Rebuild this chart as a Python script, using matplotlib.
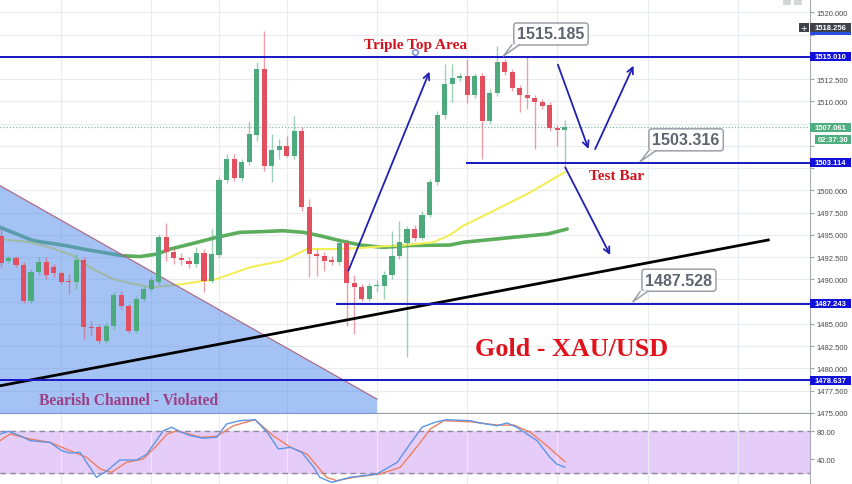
import numpy as np
import matplotlib.pyplot as plt
from matplotlib.patches import Rectangle, Polygon
from matplotlib.transforms import blended_transform_factory

plt.rcParams['font.family'] = ['Liberation Sans', 'DejaVu Sans']

# hourly candles (index 0 = left edge)
opens = [1494.87, 1492.05, 1492.39, 1491.64, 1487.59, 1490.85, 1491.98, 1491.41, 1490.67, 1489.86,
         1489.66, 1492.20, 1484.69, 1484.61, 1483.10, 1484.72, 1488.24, 1486.97, 1484.22, 1487.78,
         1488.91, 1489.66, 1494.72, 1493.10, 1492.43, 1492.05, 1491.68, 1492.92, 1489.84, 1492.73,
         1501.16, 1503.52, 1501.42, 1503.15, 1506.25, 1513.63, 1502.76, 1504.56, 1504.94, 1503.89,
         1506.70, 1498.09, 1492.84, 1492.65, 1492.17, 1491.91, 1494.08, 1489.55, 1489.10, 1487.78,
         1489.21, 1489.28, 1490.48, 1492.58, 1494.11, 1495.65, 1494.64, 1497.26, 1500.90, 1508.46,
         1511.94, 1512.58, 1512.80, 1510.71, 1512.87, 1507.82, 1510.90, 1514.38, 1513.26, 1511.46,
         1510.74, 1510.37, 1509.89, 1509.58, 1507.03, 1506.74]
highs = [1495.65, 1492.62, 1492.62, 1491.94, 1491.16, 1492.51, 1492.51, 1491.72, 1490.93, 1490.59,
         1492.84, 1492.51, 1485.31, 1484.97, 1485.20, 1488.57, 1488.68, 1487.22, 1488.12, 1489.24,
         1490.26, 1495.09, 1496.32, 1493.52, 1492.96, 1492.51, 1493.63, 1493.40, 1495.65, 1501.49,
         1504.08, 1504.08, 1503.52, 1507.79, 1514.45, 1517.93, 1506.33, 1505.76, 1506.10, 1508.38,
         1507.11, 1499.02, 1493.40, 1493.07, 1492.62, 1494.53, 1494.53, 1490.48, 1489.47, 1489.58,
         1489.92, 1490.93, 1495.42, 1496.58, 1496.02, 1496.10, 1497.67, 1501.27, 1508.91, 1514.19,
         1514.19, 1513.18, 1514.75, 1513.18, 1513.18, 1511.38, 1516.18, 1514.75, 1513.63, 1511.83,
         1514.97, 1510.71, 1510.26, 1509.92, 1507.33, 1507.93]
lows = [1491.38, 1491.83, 1491.38, 1487.34, 1487.34, 1490.48, 1490.03, 1490.26, 1489.47, 1488.35,
        1488.91, 1483.29, 1483.63, 1482.73, 1482.84, 1484.41, 1486.66, 1483.96, 1483.96, 1487.56,
        1488.68, 1489.36, 1492.05, 1491.72, 1491.61, 1491.27, 1491.38, 1488.57, 1489.58, 1492.51,
        1500.82, 1501.04, 1501.04, 1502.84, 1505.54, 1502.20, 1500.93, 1503.52, 1503.74, 1503.52,
        1497.67, 1490.22, 1490.37, 1490.93, 1491.61, 1491.61, 1484.78, 1483.85, 1487.56, 1487.56,
        1488.68, 1487.78, 1490.03, 1492.28, 1481.24, 1494.30, 1494.41, 1497.00, 1500.60, 1508.01,
        1509.92, 1512.28, 1509.81, 1510.37, 1503.51, 1507.45, 1510.59, 1512.95, 1511.16, 1508.80,
        1509.14, 1504.64, 1509.14, 1506.66, 1505.01, 1502.76]
closes = [1491.83, 1492.39, 1491.61, 1487.59, 1490.85, 1491.98, 1490.48, 1490.67, 1489.73, 1489.70,
          1492.20, 1484.61, 1484.52, 1483.10, 1484.78, 1488.24, 1486.97, 1484.22, 1487.78, 1488.91,
          1489.92, 1494.72, 1493.03, 1492.36, 1492.13, 1491.68, 1492.92, 1489.84, 1492.84, 1501.16,
          1503.52, 1501.42, 1503.15, 1506.33, 1513.63, 1502.76, 1504.53, 1504.94, 1503.89, 1506.70,
          1498.09, 1492.84, 1492.65, 1492.09, 1491.98, 1494.08, 1489.55, 1489.10, 1487.78, 1489.21,
          1489.36, 1490.48, 1492.58, 1494.15, 1495.65, 1494.64, 1497.26, 1500.90, 1508.46, 1511.94,
          1512.58, 1512.80, 1510.71, 1512.87, 1507.82, 1510.90, 1514.38, 1513.26, 1511.46, 1510.74,
          1510.37, 1509.89, 1509.51, 1506.97, 1506.74, 1507.06]

# moving averages (sampled points)
ma_slow_x = [-0.13, 4.3, 8.7, 10.9, 16.2, 18.5, 20.8, 22.5, 25.2, 28.7, 31.8, 34.5, 37.5, 40.2,
             42.4, 45.1, 47.8, 50.8, 54.4, 59.7, 61.5, 68.1, 72.7, 75.3]
ma_slow = [1495.84, 1494.34, 1493.78, 1493.40, 1492.65, 1492.56, 1492.84, 1493.40, 1493.96, 1494.72,
           1495.28, 1495.35, 1495.46, 1495.28, 1494.90, 1494.34, 1493.85, 1493.59, 1493.80, 1493.85,
           1494.16, 1494.72, 1495.09, 1495.65]
ma_fast_x = [-0.13, 3.9, 6.5, 9.6, 12.2, 14.9, 17.6, 20.2, 24.2, 28.7, 33.1, 37.5, 40.7, 44.2,
             47.8, 50.8, 53.1, 57.5, 59.7, 61.5, 66.0, 70.4, 73.4, 75.0]
ma_fast = [1494.53, 1494.16, 1493.60, 1492.65, 1491.16, 1490.03, 1489.47, 1489.10, 1489.47, 1490.03,
           1491.35, 1492.09, 1493.40, 1493.40, 1493.52, 1493.71, 1493.78, 1494.16, 1494.98, 1496.02,
           1497.90, 1499.77, 1501.27, 1502.02]

# stochastic %K / %D
k_x = [-0.13, 1, 2.5, 3.9, 6.5, 8.1, 9.2, 10.5, 12.7, 14.1, 15.8, 18.1, 19.4, 21.6, 22.7, 24, 25.2,
       26.9, 28.7, 30, 31.8, 33.8, 35.4, 36.9, 38.5, 40, 41.6, 42.4, 44, 46.4, 50, 52.7, 54.4, 56,
       57.1, 58, 59.3, 62.4, 63.7, 66, 67.3, 68.6, 71.3, 73, 73.9, 75]
k_val = [76, 80, 73.7, 66.5, 64, 52, 48.8, 49.8, 13.8, 23.3, 38.7, 38.7, 47.3, 80.9, 85.8, 78.6, 73.7,
         70, 71.4, 90.5, 95.3, 96.7, 78.6, 54.5, 57, 49.8, 28.2, 13.8, 6.6, 13.8, 18.6, 35.4, 61.7, 85.8,
         90.5, 93.8, 96.7, 95.3, 92, 88, 92, 85.8, 66.5, 42.6, 33, 28.2]
d_x = [-0.13, 1.2, 3.9, 6.5, 9.2, 11.4, 13.2, 14.7, 16.7, 18.9, 20.7, 22.1, 23.4, 26.5, 28.7, 30.9,
       33.8, 36.2, 38.5, 40.7, 43.3, 44.7, 46.9, 50.4, 53.1, 55.8, 57.1, 58.9, 62.4, 66, 68.2, 70.4,
       72.6, 75]
d_val = [66.5, 76.1, 68.9, 64.2, 52.1, 42.6, 25.8, 21, 35.4, 40.1, 59.3, 76.1, 80.9, 71.4, 72.8, 88,
         96.7, 73.7, 57, 47.3, 13.8, 8.9, 13.8, 18.6, 28.2, 64.2, 83.3, 95.3, 93.8, 89, 89, 78.6,
         59.3, 36.3]

# drawn levels: (price, start index)
levels = [(1515.010, -0.13), (1503.114, 61.96), (1487.243, 44.75), (1478.637, -0.13)]
last_price = 1507.061
grid_idx = [8, 20, 29, 38, 50, 62, 74, 86, 98]
# scale labels that sit under a price tag
hidden_ticks = [1517.5, 1515.0, 1507.5, 1505.0, 1502.5, 1487.5]

GREEN = '#4daa7c'
RED = '#e2505f'
LINE_BLUE = '#1616c4'

fig = plt.figure(figsize=(8.52, 4.85), dpi=100)
ax = fig.add_axes([0, 70 / 485, 810 / 852, 415 / 485])
ax2 = fig.add_axes([0, 0, 810 / 852, 70 / 485], sharex=ax)

x = np.arange(len(opens))
o = np.array(opens); h = np.array(highs); l = np.array(lows); c = np.array(closes)
up = c >= o
cols = np.where(up, GREEN, RED)
ax.vlines(x, l, h, colors=cols, lw=1, alpha=0.55, zorder=4)
ax.bar(x, np.maximum(np.abs(c - o), 0.14), width=0.68, bottom=np.minimum(o, c),
       color=cols, zorder=5)

ax.plot(ma_slow_x, ma_slow, color='#5cae5c', lw=2.6, zorder=2, solid_capstyle='round')
ax.plot(ma_fast_x, ma_fast, color='#f2ee55', lw=1.5, zorder=2)

# bearish channel (shaded)
tri = Polygon([(-0.13, 1500.52), (50.0, 1476.55), (50.0, 1474.87), (-0.13, 1474.87)],
              closed=True, fc='#5a90eb', ec='none', alpha=0.55, zorder=3)
ax.add_patch(tri)
ax.plot([-0.13, 50.0], [1500.52, 1476.55], color='#b0607a', lw=0.8, zorder=3)

# trendline
ax.plot([-0.13, 102.05], [1478.04, 1494.42], color='black', lw=2, zorder=6)

for lv, x0 in levels:
    ax.plot([x0, 108], [lv, lv], color=LINE_BLUE, lw=1.4, zorder=6)
ax.axhline(last_price, color='#86b8a2', lw=0.9, ls=(0, (1, 1.5)), zorder=1)

# arrows
arrows = [((46.21, 1490.97), (56.99, 1513.33)),
          ((74.07, 1514.11), (78.14, 1504.64)),
          ((79.03, 1504.64), (84.13, 1514.00)),
          ((75.04, 1502.58), (81.03, 1492.73))]
for (x0, y0), (x1, y1) in arrows:
    ax.annotate('', xy=(x1, y1), xytext=(x0, y0),
                arrowprops=dict(arrowstyle='->', color='#2020b4', lw=1.3,
                                mutation_scale=11, shrinkA=0, shrinkB=0), zorder=7)

ax.plot(55.1, 1515.57, 'o', ms=4, mfc='white', mec='#7088c8', mew=1, zorder=8)

serif = ['Liberation Serif', 'DejaVu Serif']
ax.text(55.17, 1516.0, 'Triple Top Area', ha='center', va='baseline', fontsize=11,
        fontweight='bold', color='#d2141e', family=serif, zorder=8)
ax.text(81.87, 1501.27, 'Test Bar', ha='center', va='baseline', fontsize=11,
        fontweight='bold', color='#d2141e', family=serif, zorder=8)
ax.text(75.93, 1481.45, 'Gold - XAU/USD', ha='center', va='baseline', fontsize=18.8,
        fontweight='bold', color='#e0121b', family=serif, zorder=8)
ax.text(17.0, 1476.0, 'Bearish Channel - Violated', ha='center', va='baseline', fontsize=11.2,
        fontweight='bold', color='#9c3f86', family=serif, zorder=8)

# price callouts: text, box centre, anchor, tail base
callouts = [('1515.185', (73.15, 1517.56), (66.83, 1515.09), (67.95, 68.92, 1516.33)),
            ('1503.316', (91.12, 1505.67), (85.02, 1503.22), (86.12, 87.02, 1504.41)),
            ('1487.528', (90.17, 1489.90), (84.05, 1487.48), (85.02, 85.99, 1488.63))]
for txt, (bx, by), (px, py), (t0, t1, ty) in callouts:
    ax.text(bx, by, txt, ha='center', va='center', fontsize=11.5, fontweight='bold',
            color='#5d6670', zorder=9,
            bbox=dict(boxstyle='round,pad=0.22,rounding_size=0.2', fc='white',
                      ec='#9ba1a8', lw=1.1))
    ax.add_patch(Polygon([(t0, ty + 0.08), (px, py), (t1, ty + 0.08)], closed=True,
                         fc='white', ec='none', zorder=9.5))
    ax.plot([t0, px, t1], [ty, py, ty], color='#9ba1a8', lw=1.1, zorder=9.6)

ax.set_xlim(-0.13, 107.6)
ax.set_ylim(1474.87, 1521.49)
ax.set_xticks(grid_idx)
ax.tick_params(axis='x', length=0, labelbottom=False)
ax.yaxis.tick_right()
yt = np.arange(1475, 1521, 2.5)
ax.set_yticks(yt)
ax.set_yticklabels(['' if v in hidden_ticks else f'{v:.3f}' for v in yt])
ax.tick_params(axis='y', length=3, color='#a0a3aa', labelsize=5.5, labelcolor='#4a4a4a', pad=2)
ax.grid(color='#e8ebef', lw=0.8, zorder=0)
ax.set_axisbelow(True)
for s in ['top', 'left']:
    ax.spines[s].set_visible(False)
ax.spines['right'].set_color('#a8abb2')
ax.spines['bottom'].set_color('#9a9da5')
ax.spines['bottom'].set_linewidth(1.6)

# stochastic panel
ax2.axhspan(20, 80, color='#e6cdf9', zorder=0)
ax2.axhline(80, color='#8c8a9c', lw=1, ls=(0, (4, 3)), zorder=1)
ax2.axhline(20, color='#8c8a9c', lw=1, ls=(0, (4, 3)), zorder=1)
ax2.plot(k_x, k_val, color='#5b95e6', lw=1, zorder=3)
ax2.plot(d_x, d_val, color='#ee7f5f', lw=1, zorder=2)
ax2.set_ylim(4.2, 104.9)
ax2.yaxis.tick_right()
ax2.set_yticks([40, 80])
ax2.set_yticklabels(['40.00', '80.00'])
ax2.tick_params(axis='y', length=3, color='#a0a3aa', labelsize=5.5, labelcolor='#4a4a4a', pad=2)
ax2.tick_params(axis='x', length=0, labelbottom=False)
ax2.grid(axis='x', color='#e8ebef', lw=0.8)
ax2.set_axisbelow(True)
for s in ['top', 'left', 'bottom']:
    ax2.spines[s].set_visible(False)
ax2.spines['right'].set_color('#a8abb2')

# price tags on the right scale
tr = blended_transform_factory(fig.transFigure, ax.transData)
ppx = 1 / 8.9  # price units per pixel
tags = [(1518.256, '1518.256', '#3f424b', 810, 851),
        (1515.010, '1515.010', '#1010d8', 810, 851),
        (1507.061, '1507.061', '#4fae80', 810, 851),
        (1505.71, '02:37:30', '#4fae80', 815, 851),
        (1503.114, '1503.114', '#1010d8', 810, 851),
        (1487.243, '1487.243', '#1010d8', 810, 851),
        (1478.637, '1478.637', '#1010d8', 810, 851)]
fig.add_artist(Rectangle((810 / 852, 1518.256 - 7.5 * ppx), 41 / 852, 4 * ppx, transform=tr,
                         fc='#2a4ee0', ec='none', zorder=4))
for price, txt, fc, x0, x1 in tags:
    fig.add_artist(Rectangle((x0 / 852, price - 4.6 * ppx), (x1 - x0) / 852, 9.2 * ppx,
                             transform=tr, fc=fc, ec='none', zorder=5))
    fig.text((x0 + x1) / 2 / 852, price, txt, transform=tr, ha='center', va='center',
             color='white', fontsize=5.5, fontweight='bold', zorder=6)
fig.add_artist(Rectangle((799 / 852, 1518.256 - 4.6 * ppx), 10 / 852, 9.2 * ppx, transform=tr,
                         fc='#3f424b', ec='none', zorder=5))
fig.text(804 / 852, 1518.256, '+', transform=tr, ha='center', va='center', color='white',
         fontsize=8, zorder=6)
for xa in (783, 794):
    fig.add_artist(Rectangle((xa / 852, 1 - 6 / 485), 8 / 852, 6 / 485, transform=fig.transFigure,
                             fc='#d4d6da', ec='none', zorder=5))

fig.savefig('out.png', dpi=100)
